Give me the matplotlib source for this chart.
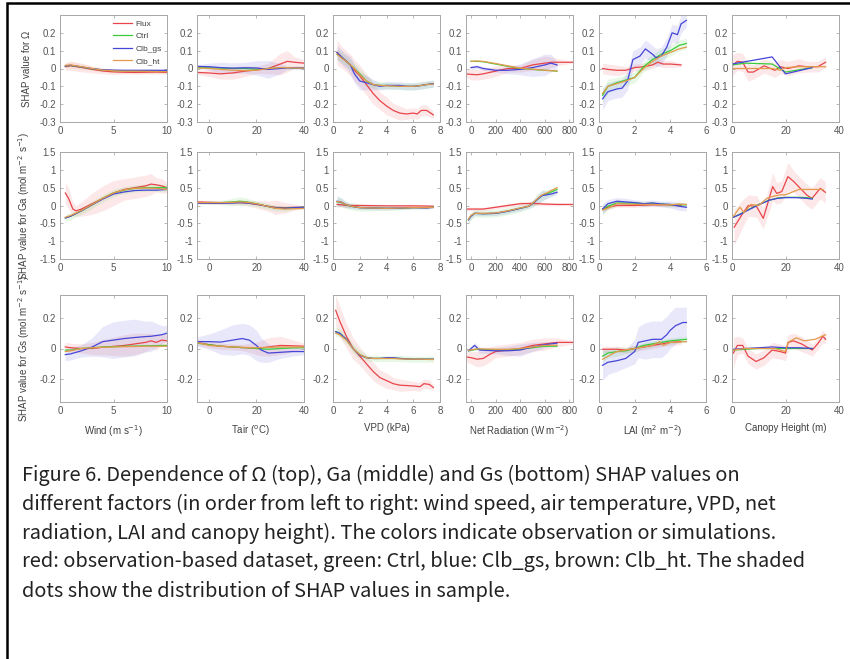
import matplotlib.pyplot as plt
from matplotlib.patches import Rectangle

plt.rcParams['axes.unicode_minus'] = False
plt.rcParams['font.family'] = ['Liberation Sans', 'DejaVu Sans']

# series order and colours
series = ['Flux', 'Ctrl', 'Clb_gs', 'Clb_ht']
colors = {'Flux': '#e8454a', 'Ctrl': '#3acb3a', 'Clb_gs': '#4545d8', 'Clb_ht': '#e39a4c'}

# ---- row 1: SHAP value for Omega ----
# each entry: (x, y) or (x, y, half-width of the shaded cloud)
om_wind = {
    'Flux': ([0.5, 1, 2, 3, 4, 5, 6, 7, 8, 9, 10],
             [0.01, 0.015, 0.006, -0.005, -0.014, -0.019, -0.021, -0.022, -0.021, -0.02, -0.022],
             [0.02, 0.025, 0.025, 0.02, 0.015, 0.015, 0.01, 0.01, 0.01, 0.01, 0.01]),
    'Ctrl': ([0.5, 1, 2, 3, 4, 5, 6, 7, 8, 9, 10],
             [0.014, 0.017, 0.008, -0.002, -0.009, -0.012, -0.013, -0.013, -0.013, -0.014, -0.015]),
    'Clb_gs': ([0.5, 1, 2, 3, 4, 5, 6, 7, 8, 9, 10],
               [0.015, 0.018, 0.009, -0.001, -0.007, -0.009, -0.01, -0.01, -0.01, -0.01, -0.01]),
    'Clb_ht': ([0.5, 1, 2, 3, 4, 5, 6, 7, 8, 9, 10],
               [0.018, 0.02, 0.01, 0, -0.009, -0.013, -0.015, -0.015, -0.016, -0.017, -0.018],
               [0.015, 0.02, 0.015, 0.01, 0.01, 0.01, 0.01, 0.01, 0.01, 0.01, 0.01]),
}
om_tair = {
    'Flux': ([-5, 0, 5, 10, 15, 20, 25, 30, 33, 36, 40],
             [-0.022, -0.025, -0.03, -0.025, -0.015, -0.008, 0.0, 0.025, 0.04, 0.035, 0.03],
             [0.01, 0.02, 0.03, 0.035, 0.03, 0.02, 0.03, 0.06, 0.06, 0.03, 0.02]),
    'Ctrl': ([-5, 0, 5, 10, 15, 20, 25, 30, 33, 36, 40],
             [0.005, 0.004, 0.002, 0.0, 0.0, -0.004, 0.0, 0.004, 0.004, 0.003, 0.003]),
    'Clb_gs': ([-5, 0, 5, 10, 15, 20, 25, 30, 33, 36, 40],
               [0.012, 0.01, 0.005, 0.002, 0.004, 0.003, -0.005, 0.0, 0.004, 0.004, 0.003],
               [0.01, 0.02, 0.03, 0.03, 0.03, 0.04, 0.05, 0.03, 0.01, 0.01, 0.01]),
    'Clb_ht': ([-5, 0, 5, 10, 15, 20, 25, 30, 33, 36, 40],
               [0.003, 0.0, -0.005, -0.01, -0.012, -0.01, 0.0, 0.005, 0.005, 0.003, 0.002]),
}
om_vpd = {
    'Flux': ([0.3, 0.7, 1, 1.3, 1.6, 2, 2.5, 3, 3.5, 4, 4.5, 5, 5.5, 6, 6.3, 6.6, 7, 7.5],
             [0.09, 0.06, 0.04, 0.02, -0.01, -0.04, -0.09, -0.14, -0.18, -0.21, -0.235, -0.25,
              -0.255, -0.25, -0.255, -0.235, -0.235, -0.26],
             [0.07, 0.06, 0.06, 0.06, 0.06, 0.06, 0.06, 0.06, 0.05, 0.05, 0.04, 0.04, 0.03,
              0.03, 0.03, 0.03, 0.03, 0.02]),
    'Ctrl': ([0.3, 0.7, 1, 1.3, 1.6, 2, 2.5, 3, 3.5, 4, 4.5, 5, 5.5, 6, 6.3, 6.6, 7, 7.5],
             [0.08, 0.06, 0.04, 0.02, 0.0, -0.03, -0.07, -0.09, -0.095, -0.095, -0.097, -0.1,
              -0.1, -0.1, -0.098, -0.095, -0.09, -0.085],
             [0.03, 0.03, 0.03, 0.03, 0.03, 0.03, 0.03, 0.02, 0.02, 0.02, 0.02, 0.02, 0.02,
              0.02, 0.02, 0.02, 0.02, 0.02]),
    'Clb_gs': ([0.3, 0.7, 1, 1.3, 1.6, 2, 2.5, 3, 3.5, 4, 4.5, 5, 5.5, 6, 6.3, 6.6, 7, 7.5],
               [0.09, 0.06, 0.04, 0.02, -0.03, -0.07, -0.08, -0.09, -0.1, -0.095, -0.095, -0.095,
                -0.1, -0.1, -0.098, -0.095, -0.09, -0.085],
               [0.04, 0.04, 0.04, 0.05, 0.05, 0.05, 0.04, 0.03, 0.02, 0.02, 0.02, 0.02, 0.02,
                0.02, 0.02, 0.02, 0.02, 0.02]),
    'Clb_ht': ([0.3, 0.7, 1, 1.3, 1.6, 2, 2.5, 3, 3.5, 4, 4.5, 5, 5.5, 6, 6.3, 6.6, 7, 7.5],
               [0.08, 0.055, 0.04, 0.02, 0.0, -0.035, -0.07, -0.09, -0.095, -0.097, -0.098, -0.1,
                -0.1, -0.1, -0.098, -0.095, -0.09, -0.087]),
}
om_rn = {
    'Flux': ([-40, 0, 50, 100, 200, 300, 400, 500, 600, 650, 700, 830],
             [-0.03, -0.033, -0.035, -0.03, -0.015, 0.0, 0.0, 0.02, 0.03, 0.035, 0.035, 0.035],
             [0.02, 0.03, 0.03, 0.03, 0.03, 0.02, 0.02, 0.03, 0.04, 0.03, 0.02, 0.005]),
    'Ctrl': ([0, 50, 100, 200, 300, 400, 500, 600, 650, 700],
             [0.04, 0.04, 0.038, 0.025, 0.012, 0.0, -0.005, -0.01, -0.012, -0.015]),
    'Clb_gs': ([0, 50, 100, 200, 300, 400, 500, 600, 650, 700],
               [0.005, 0.01, 0.0, -0.01, -0.01, -0.005, 0.005, 0.02, 0.03, 0.02],
               [0.01, 0.01, 0.01, 0.01, 0.02, 0.03, 0.05, 0.06, 0.05, 0.02]),
    'Clb_ht': ([0, 50, 100, 200, 300, 400, 500, 600, 650, 700],
               [0.04, 0.042, 0.04, 0.028, 0.015, 0.002, -0.004, -0.01, -0.012, -0.014]),
}
om_lai = {
    'Flux': ([0.2, 0.5, 1, 1.5, 2, 2.5, 3, 3.3, 3.6, 4, 4.6],
             [0.0, -0.005, -0.01, -0.01, 0.005, 0.01, 0.02, 0.035, 0.025, 0.025, 0.02],
             [0.03, 0.03, 0.03, 0.02, 0.02, 0.02, 0.02, 0.02, 0.02, 0.02, 0.01]),
    'Ctrl': ([0.2, 0.5, 1, 1.5, 2, 2.5, 3, 3.5, 4, 4.5, 4.9],
             [-0.15, -0.1, -0.08, -0.065, -0.05, 0.01, 0.05, 0.08, 0.1, 0.13, 0.14],
             [0.04, 0.04, 0.03, 0.03, 0.03, 0.03, 0.03, 0.03, 0.03, 0.03, 0.03]),
    'Clb_gs': ([0.2, 0.5, 1, 1.3, 1.6, 1.9, 2.3, 2.6, 3.0, 3.2, 3.5, 3.8, 4.1, 4.4, 4.6, 4.9],
               [-0.17, -0.13, -0.115, -0.11, -0.07, 0.05, 0.07, 0.11, 0.08, 0.06, 0.07, 0.12,
                0.2, 0.19, 0.25, 0.27],
               [0.06, 0.05, 0.05, 0.05, 0.05, 0.05, 0.05, 0.05, 0.05, 0.05, 0.05, 0.05, 0.05,
                0.05, 0.05, 0.04]),
    'Clb_ht': ([0.2, 0.5, 1, 1.5, 2, 2.5, 3, 3.5, 4, 4.5, 4.9],
               [-0.14, -0.1, -0.085, -0.07, -0.05, 0.0, 0.04, 0.07, 0.09, 0.11, 0.12]),
}
om_ht = {
    'Flux': ([0, 2, 4, 6, 8, 12, 16, 18, 21, 25, 28, 32, 35],
             [0.015, 0.04, 0.035, -0.02, -0.02, 0.015, -0.01, 0.01, 0.0, 0.015, 0.01, 0.01, 0.035],
             [0.06, 0.05, 0.05, 0.05, 0.04, 0.04, 0.04, 0.04, 0.04, 0.04, 0.03, 0.03, 0.03]),
    'Ctrl': ([0, 5, 15, 20, 30], [0.02, 0.03, 0.025, -0.02, 0.005]),
    'Clb_gs': ([0, 15, 20, 30], [0.025, 0.065, -0.03, 0.005]),
    'Clb_ht': ([0, 5, 15, 18, 20, 25, 35], [0.0, 0.0, 0.0, -0.01, 0.005, 0.01, 0.01]),
}

# ---- row 2: SHAP value for Ga ----
ga_wind = {
    'Flux': ([0.5, 0.8, 1.2, 1.5, 2, 3, 4, 5, 6, 7, 8, 8.5, 9, 9.5, 10],
             [0.35, 0.2, -0.1, -0.15, -0.1, 0.05, 0.2, 0.35, 0.45, 0.5, 0.55, 0.6, 0.58, 0.55, 0.5],
             [0.3, 0.3, 0.2, 0.15, 0.2, 0.3, 0.35, 0.35, 0.3, 0.3, 0.3, 0.3, 0.2, 0.2, 0.15]),
    'Ctrl': ([0.5, 1, 2, 3, 4, 5, 6, 7, 8, 9, 10],
             [-0.35, -0.3, -0.15, 0.02, 0.2, 0.35, 0.43, 0.48, 0.5, 0.5, 0.5],
             [0.1, 0.1, 0.1, 0.1, 0.1, 0.1, 0.1, 0.1, 0.1, 0.1, 0.1]),
    'Clb_gs': ([0.5, 1, 2, 3, 4, 5, 6, 7, 8, 9, 10],
               [-0.35, -0.3, -0.15, 0.02, 0.18, 0.32, 0.38, 0.42, 0.43, 0.43, 0.45]),
    'Clb_ht': ([0.5, 1, 2, 3, 4, 5, 6, 7, 8, 9, 10],
               [-0.33, -0.28, -0.14, 0.03, 0.2, 0.35, 0.44, 0.48, 0.49, 0.48, 0.45]),
}
ga_tair = {
    'Flux': ([-5, 0, 5, 10, 13, 16, 20, 25, 28, 32, 36, 40],
             [0.1, 0.09, 0.08, 0.08, 0.08, 0.07, 0.03, -0.02, -0.05, -0.06, -0.05, -0.05],
             [0.05, 0.05, 0.05, 0.06, 0.06, 0.08, 0.1, 0.15, 0.2, 0.15, 0.08, 0.05]),
    'Ctrl': ([-5, 0, 5, 10, 13, 16, 20, 25, 28, 32, 36, 40],
             [0.08, 0.08, 0.08, 0.1, 0.12, 0.1, 0.05, -0.03, -0.07, -0.08, -0.06, -0.05],
             [0.04, 0.05, 0.06, 0.1, 0.12, 0.1, 0.08, 0.08, 0.08, 0.08, 0.05, 0.04]),
    'Clb_gs': ([-5, 0, 5, 10, 13, 16, 20, 25, 28, 32, 36, 40],
               [0.06, 0.06, 0.06, 0.07, 0.08, 0.07, 0.04, -0.03, -0.07, -0.08, -0.06, -0.05]),
    'Clb_ht': ([-5, 0, 5, 10, 13, 16, 20, 25, 28, 32, 36, 40],
               [0.08, 0.08, 0.08, 0.09, 0.1, 0.09, 0.05, -0.03, -0.08, -0.1, -0.09, -0.08]),
}
ga_vpd = {
    'Flux': ([0.3, 0.6, 1, 1.5, 2, 3, 4, 5, 6, 7, 7.5],
             [0.03, 0.02, 0.0, 0.0, 0.0, -0.005, -0.01, -0.01, -0.01, -0.015, -0.02],
             [0.06, 0.06, 0.06, 0.05, 0.05, 0.05, 0.04, 0.04, 0.04, 0.03, 0.03]),
    'Ctrl': ([0.3, 0.6, 1, 1.5, 2, 3, 4, 5, 6, 7, 7.5],
             [0.1, 0.09, 0.01, -0.03, -0.06, -0.07, -0.08, -0.08, -0.06, -0.06, -0.05],
             [0.15, 0.12, 0.1, 0.1, 0.1, 0.08, 0.06, 0.05, 0.04, 0.03, 0.03]),
    'Clb_gs': ([0.3, 0.6, 1, 1.5, 2, 3, 4, 5, 6, 7, 7.5],
               [0.12, 0.1, 0.02, -0.03, -0.06, -0.07, -0.08, -0.07, -0.06, -0.07, -0.05],
               [0.15, 0.12, 0.08, 0.06, 0.05, 0.05, 0.04, 0.04, 0.03, 0.03, 0.03]),
    'Clb_ht': ([0.3, 0.6, 1, 1.5, 2, 3, 4, 5, 6, 7, 7.5],
               [0.11, 0.1, 0.02, -0.03, -0.06, -0.07, -0.08, -0.07, -0.06, -0.06, -0.05]),
}
ga_rn = {
    'Flux': ([-40, 100, 200, 300, 400, 500, 600, 700, 830],
             [-0.1, -0.1, -0.05, 0.0, 0.05, 0.06, 0.04, 0.03, 0.03],
             [0.05, 0.05, 0.05, 0.05, 0.05, 0.05, 0.05, 0.04, 0.02]),
    'Ctrl': ([-20, 0, 30, 100, 200, 300, 400, 470, 500, 550, 580, 620, 660, 700],
             [-0.4, -0.3, -0.22, -0.23, -0.22, -0.16, -0.08, -0.02, 0.05, 0.2, 0.28, 0.33, 0.39, 0.45],
             [0.1, 0.1, 0.1, 0.1, 0.1, 0.1, 0.1, 0.08, 0.1, 0.15, 0.15, 0.12, 0.1, 0.08]),
    'Clb_gs': ([-20, 0, 30, 100, 200, 300, 400, 470, 500, 550, 580, 620, 660, 700],
               [-0.4, -0.3, -0.22, -0.23, -0.22, -0.16, -0.08, -0.02, 0.05, 0.2, 0.28, 0.3, 0.33, 0.37],
               [0.08, 0.08, 0.06, 0.06, 0.06, 0.06, 0.06, 0.05, 0.08, 0.12, 0.15, 0.1, 0.08, 0.06]),
    'Clb_ht': ([-20, 0, 30, 100, 200, 300, 400, 470, 500, 550, 580, 620, 660, 700],
               [-0.38, -0.28, -0.22, -0.22, -0.21, -0.15, -0.07, -0.02, 0.06, 0.22, 0.3, 0.36, 0.43, 0.5]),
}
ga_lai = {
    'Flux': ([0.2, 0.5, 1, 1.5, 2, 2.5, 3, 3.5, 4, 4.6],
             [-0.1, -0.05, 0.0, 0.0, 0.0, 0.01, 0.02, 0.02, 0.02, 0.0],
             [0.08, 0.06, 0.05, 0.05, 0.05, 0.05, 0.05, 0.05, 0.05, 0.04]),
    'Ctrl': ([0.2, 0.5, 1, 1.5, 2, 2.5, 3, 3.5, 4, 4.5, 4.9],
             [-0.12, -0.02, 0.07, 0.07, 0.07, 0.05, 0.06, 0.04, 0.02, 0.02, 0.02],
             [0.15, 0.1, 0.08, 0.06, 0.06, 0.06, 0.06, 0.06, 0.06, 0.06, 0.06]),
    'Clb_gs': ([0.2, 0.5, 1, 1.5, 2, 2.5, 3, 3.5, 4, 4.5, 4.9],
               [-0.1, 0.05, 0.12, 0.1, 0.08, 0.05, 0.07, 0.04, 0.03, -0.02, -0.05],
               [0.15, 0.12, 0.1, 0.1, 0.08, 0.08, 0.08, 0.08, 0.1, 0.12, 0.1]),
    'Clb_ht': ([0.2, 0.5, 1, 1.5, 2, 2.5, 3, 3.5, 4, 4.5, 4.9],
               [-0.12, -0.08, 0.05, 0.04, 0.03, 0.03, 0.03, 0.02, 0.02, 0.04, 0.03]),
}
ga_ht = {
    'Flux': ([0.8, 3.6, 6.1, 9.2, 11.7, 15.2, 16.7, 18.6, 20.9, 23.1, 28, 29.9, 33, 34.9],
             [-0.61, -0.27, 0.0, -0.03, -0.36, 0.53, 0.34, 0.39, 0.81, 0.67, 0.29, 0.2, 0.48, 0.37],
             [0.5, 0.4, 0.3, 0.3, 0.3, 0.4, 0.3, 0.3, 0.4, 0.3, 0.3, 0.3, 0.3, 0.3]),
    'Ctrl': ([0.5, 3, 6, 10, 14, 17, 20, 24, 28, 30],
             [-0.33, -0.24, -0.12, 0.03, 0.15, 0.21, 0.23, 0.23, 0.22, 0.2]),
    'Clb_gs': ([0.5, 3, 6, 10, 14, 17, 20, 24, 28, 30],
               [-0.33, -0.25, -0.13, 0.02, 0.15, 0.2, 0.22, 0.22, 0.2, 0.18]),
    'Clb_ht': ([0.5, 3, 4.5, 7, 10, 13, 15, 18, 20, 25, 30, 34],
               [-0.3, -0.05, -0.2, 0.03, 0.0, 0.2, 0.25, 0.3, 0.3, 0.45, 0.45, 0.45]),
}

# ---- row 3: SHAP value for Gs ----
gs_wind = {
    'Flux': ([0.5, 1, 2, 3, 4, 5, 6, 7, 8, 8.5, 9, 9.5, 10],
             [0.01, 0.005, 0.0, 0.0, 0.008, 0.014, 0.02, 0.03, 0.04, 0.05, 0.04, 0.055, 0.05],
             [0.03, 0.03, 0.03, 0.04, 0.05, 0.06, 0.07, 0.07, 0.06, 0.05, 0.05, 0.04, 0.04]),
    'Ctrl': ([0.5, 1, 2, 3, 4, 5, 6, 7, 8, 8.5, 9, 9.5, 10],
             [-0.01, -0.01, 0.0, 0.005, 0.01, 0.012, 0.015, 0.016, 0.018, 0.018, 0.019, 0.02, 0.02]),
    'Clb_gs': ([0.5, 1, 2, 3, 4, 5, 6, 7, 8, 8.5, 9, 9.5, 10],
               [-0.04, -0.035, -0.015, 0.01, 0.045, 0.055, 0.065, 0.072, 0.078, 0.08, 0.085, 0.09, 0.1],
               [0.04, 0.04, 0.04, 0.06, 0.1, 0.12, 0.12, 0.12, 0.1, 0.1, 0.08, 0.06, 0.05]),
    'Clb_ht': ([0.5, 1, 2, 3, 4, 5, 6, 7, 8, 8.5, 9, 9.5, 10],
               [-0.02, -0.015, 0.0, 0.005, 0.008, 0.01, 0.012, 0.013, 0.015, 0.015, 0.015, 0.015, 0.015]),
}
gs_tair = {
    'Flux': ([-5, 0, 5, 10, 14, 17, 20, 22, 25, 30, 35, 40],
             [0.04, 0.025, 0.015, 0.01, 0.006, 0.004, 0.0, 0.003, 0.01, 0.02, 0.018, 0.015],
             [0.02, 0.02, 0.02, 0.02, 0.02, 0.03, 0.04, 0.05, 0.06, 0.06, 0.04, 0.02]),
    'Ctrl': ([-5, 0, 5, 10, 14, 17, 20, 22, 25, 30, 35, 40],
             [0.035, 0.025, 0.015, 0.01, 0.006, 0.004, 0.0, -0.003, -0.005, 0.0, 0.004, 0.005]),
    'Clb_gs': ([-5, 0, 5, 10, 14, 17, 20, 22, 25, 30, 35, 40],
               [0.045, 0.045, 0.042, 0.055, 0.065, 0.055, 0.02, -0.01, -0.03, -0.025, -0.02, -0.02],
               [0.03, 0.05, 0.08, 0.1, 0.1, 0.1, 0.1, 0.08, 0.06, 0.04, 0.03, 0.02]),
    'Clb_ht': ([-5, 0, 5, 10, 14, 17, 20, 22, 25, 30, 35, 40],
               [0.04, 0.02, 0.015, 0.01, 0.008, 0.006, 0.005, 0.006, 0.008, 0.01, 0.01, 0.01]),
}
gs_vpd = {
    'Flux': ([0.2, 0.5, 1, 1.5, 2, 2.5, 3, 3.5, 4, 4.5, 5, 6, 6.5, 6.8, 7.2, 7.5],
             [0.25, 0.18, 0.08, 0.0, -0.05, -0.1, -0.15, -0.19, -0.21, -0.23, -0.24, -0.245,
              -0.25, -0.23, -0.235, -0.255],
             [0.1, 0.1, 0.08, 0.07, 0.06, 0.06, 0.06, 0.05, 0.05, 0.04, 0.04, 0.03, 0.03, 0.03,
              0.03, 0.02]),
    'Ctrl': ([0.2, 0.5, 1, 1.5, 2, 2.5, 3, 3.5, 4, 4.5, 5, 6, 6.5, 6.8, 7.2, 7.5],
             [0.11, 0.1, 0.06, 0.0, -0.04, -0.06, -0.065, -0.065, -0.065, -0.065, -0.065, -0.07,
              -0.07, -0.07, -0.07, -0.07],
             [0.03, 0.03, 0.03, 0.03, 0.03, 0.02, 0.02, 0.02, 0.02, 0.02, 0.02, 0.02, 0.02, 0.02,
              0.02, 0.02]),
    'Clb_gs': ([0.2, 0.5, 1, 1.5, 2, 2.5, 3, 3.5, 4, 4.5, 5, 6, 6.5, 6.8, 7.2, 7.5],
               [0.11, 0.1, 0.06, 0.0, -0.045, -0.06, -0.065, -0.065, -0.06, -0.06, -0.065, -0.07,
                -0.07, -0.07, -0.07, -0.07]),
    'Clb_ht': ([0.2, 0.5, 1, 1.5, 2, 2.5, 3, 3.5, 4, 4.5, 5, 6, 6.5, 6.8, 7.2, 7.5],
               [0.1, 0.09, 0.055, 0.0, -0.04, -0.06, -0.065, -0.065, -0.065, -0.065, -0.068, -0.07,
                -0.07, -0.07, -0.072, -0.072]),
}
gs_rn = {
    'Flux': ([-40, 0, 50, 100, 150, 200, 300, 400, 500, 600, 700, 830],
             [-0.055, -0.06, -0.07, -0.065, -0.04, -0.02, -0.01, 0.0, 0.02, 0.03, 0.04, 0.04],
             [0.03, 0.04, 0.05, 0.05, 0.05, 0.04, 0.04, 0.04, 0.04, 0.04, 0.03, 0.01]),
    'Ctrl': ([-20, 50, 200, 300, 400, 500, 600, 700],
             [-0.015, -0.005, -0.01, -0.01, -0.005, 0.005, 0.015, 0.015]),
    'Clb_gs': ([-20, 30, 70, 200, 300, 400, 500, 600, 700],
               [-0.015, 0.02, -0.01, -0.015, -0.015, -0.01, 0.01, 0.025, 0.035],
               [0.01, 0.02, 0.02, 0.02, 0.03, 0.04, 0.03, 0.02, 0.01]),
    'Clb_ht': ([-20, 50, 200, 300, 400, 500, 600, 700],
               [-0.012, -0.002, -0.005, -0.005, 0.0, 0.01, 0.02, 0.022]),
}
gs_lai = {
    'Flux': ([0.2, 1, 1.5, 2, 3, 4, 4.6],
             [-0.005, -0.005, -0.01, 0.0, 0.02, 0.04, 0.045],
             [0.02, 0.02, 0.02, 0.02, 0.02, 0.02, 0.02]),
    'Ctrl': ([0.2, 0.5, 1, 1.5, 2, 2.5, 3, 3.5, 4, 4.9],
             [-0.05, -0.03, -0.02, -0.015, 0.0, 0.02, 0.03, 0.04, 0.05, 0.06],
             [0.04, 0.03, 0.03, 0.02, 0.02, 0.02, 0.02, 0.02, 0.02, 0.02]),
    'Clb_gs': ([0.2, 0.5, 1, 1.5, 2, 2.2, 2.6, 3, 3.5, 3.8, 4, 4.3, 4.7, 4.9],
               [-0.11, -0.09, -0.08, -0.065, -0.02, 0.04, 0.05, 0.06, 0.06, 0.09, 0.12, 0.15, 0.17, 0.17],
               [0.1, 0.08, 0.07, 0.06, 0.08, 0.1, 0.12, 0.12, 0.12, 0.12, 0.12, 0.12, 0.1, 0.1]),
    'Clb_ht': ([0.2, 1, 2, 3, 3.4, 3.6, 4, 4.9],
               [-0.07, -0.02, 0.0, 0.02, 0.045, 0.02, 0.04, 0.045]),
}
gs_ht = {
    'Flux': ([0.5, 2, 4, 6, 9, 12, 15, 18, 20, 21, 23, 26, 30, 32, 34, 35],
             [-0.03, 0.02, 0.02, -0.05, -0.085, -0.06, -0.01, -0.02, -0.03, 0.04, 0.05, 0.03,
              -0.01, 0.03, 0.08, 0.06],
             [0.1, 0.06, 0.05, 0.05, 0.05, 0.05, 0.05, 0.05, 0.05, 0.05, 0.05, 0.05, 0.04,
              0.04, 0.04, 0.03]),
    'Ctrl': ([0.5, 5, 10, 15, 20, 25, 30], [-0.01, -0.005, 0.0, 0.0, 0.0, 0.0, 0.0]),
    'Clb_gs': ([0.5, 5, 10, 15, 20, 25, 30], [-0.005, 0.0, 0.005, 0.01, 0.005, 0.005, 0.0]),
    'Clb_ht': ([0.5, 5, 10, 16, 20, 21, 24, 27, 31, 35],
               [-0.01, 0.0, 0.0, 0.0, -0.02, 0.04, 0.07, 0.05, 0.06, 0.09]),
}

panels = [
    [om_wind, om_tair, om_vpd, om_rn, om_lai, om_ht],
    [ga_wind, ga_tair, ga_vpd, ga_rn, ga_lai, ga_ht],
    [gs_wind, gs_tair, gs_vpd, gs_rn, gs_lai, gs_ht],
]

# axis settings
x_limits = [(0, 10), (-5, 40), (0, 8), (-40, 830), (0, 6), (0, 40)]
x_ticks = [[0, 5, 10], [0, 20, 40], [0, 2, 4, 6, 8], [0, 200, 400, 600, 800], [0, 2, 4, 6], [0, 20, 40]]
x_labels = ['Wind (m s$^{-1}$)', 'Tair ($^{\\rm o}$C)', 'VPD (kPa)',
            'Net Radiation (W m$^{-2}$)', 'LAI (m$^2$ m$^{-2}$)', 'Canopy Height (m)']
y_limits = [(-0.3, 0.3), (-1.5, 1.5), (-0.35, 0.35)]
y_ticks = [[-0.3, -0.2, -0.1, 0, 0.1, 0.2], [-1.5, -1, -0.5, 0, 0.5, 1, 1.5], [-0.2, 0, 0.2]]
y_labels = ['SHAP value for \u03a9',
            'SHAP value for Ga (mol m$^{-2}$ s$^{-1}$)',
            'SHAP value for Gs (mol m$^{-2}$ s$^{-1}$)']

caption = [
    'Figure 6. Dependence of \u03a9 (top), Ga (middle) and Gs (bottom) SHAP values on',
    'different factors (in order from left to right: wind speed, air temperature, VPD, net',
    'radiation, LAI and canopy height). The colors indicate observation or simulations.',
    'red: observation-based dataset, green: Ctrl, blue: Clb_gs, brown: Clb_ht. The shaded',
    'dots show the distribution of SHAP values in sample.',
]

W, H = 850, 659
fig = plt.figure(figsize=(W / 100, H / 100), dpi=100)

col_left = [60, 197, 333, 466, 599, 732]
row_top = [15, 152, 295]
ax_w, ax_h = 107, 107

for r in range(3):
    for c in range(6):
        ax = fig.add_axes([col_left[c] / W, 1 - (row_top[r] + ax_h) / H, ax_w / W, ax_h / H])
        data = panels[r][c]
        # shaded clouds first, then the lines on top
        for name in series:
            entry = data[name]
            x, y = entry[0], entry[1]
            if len(entry) > 2:
                lo = [a - b for a, b in zip(y, entry[2])]
                hi = [a + b for a, b in zip(y, entry[2])]
                ax.fill_between(x, lo, hi, color=colors[name], alpha=0.12, lw=0)
        for name in series:
            x, y = data[name][0], data[name][1]
            ax.plot(x, y, color=colors[name], lw=0.9, label=name)
        ax.set_xlim(*x_limits[c])
        ax.set_ylim(*y_limits[r])
        ax.set_xticks(x_ticks[c])
        ax.set_xticklabels(['%g' % v for v in x_ticks[c]])
        ax.set_yticks(y_ticks[r])
        ax.set_yticklabels(['%g' % v for v in y_ticks[r]])
        ax.tick_params(direction='in', length=2.5, width=0.5, color='#9a9a9a',
                       labelcolor='#555555', labelsize=7, top=True, right=True, pad=3)
        for sp in ax.spines.values():
            sp.set_color('#a8a8a8')
            sp.set_linewidth(0.7)
        if c == 0:
            ax.set_ylabel(y_labels[r], fontsize=7, color='#404040')
            ax.yaxis.set_label_coords(-0.26, 0.5)
        if r == 2:
            ax.set_xlabel(x_labels[c], fontsize=7, color='#404040')
            ax.xaxis.set_label_coords(0.5, -0.2)
        if r == 0 and c == 0:
            ax.legend(loc='upper right', frameon=False, fontsize=6, handlelength=2.2,
                      labelspacing=0.55, borderaxespad=0.2, handletextpad=0.5,
                      labelcolor='#404040')

# caption below the panels
for i, line in enumerate(caption):
    fig.text(22 / W, 1 - (475 + 29 * i) / H, line, fontsize=14.4, color='#222222',
             va='center', ha='left',
             family=['Noto Sans CJK SC', 'DejaVu Sans'])

# black frame round the figure
fig.add_artist(Rectangle((7 / W, -0.05), 1.1, 1 - 3 / H + 0.05, transform=fig.transFigure,
                         fill=False, ec='black', lw=1.8))

fig.savefig('out.png', dpi=100)
